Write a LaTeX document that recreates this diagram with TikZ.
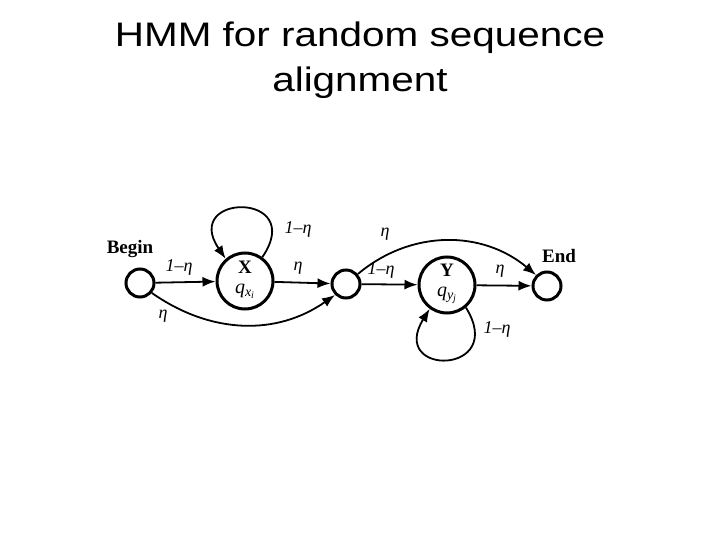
\documentclass[tikz,border=0pt]{standalone}
\usepackage{fontspec}
\setmainfont{Liberation Serif}
\newfontfamily\titlefont{Liberation Sans}
\usetikzlibrary{arrows.meta}
\tikzset{
  smallstate/.style={circle, draw, line width=3pt, inner sep=0pt, minimum size=28pt},
  bigstate/.style={circle, draw, line width=3pt, inner sep=0pt, minimum size=56pt},
  arr/.style={line width=1.8pt, -{Latex[length=13pt, width=10pt]}},
  lbl/.style={font=\itshape\fontsize{18}{20}\selectfont},
  statename/.style={font=\bfseries\fontsize{19}{21}\selectfont},
}
\newcommand{\omeps}{1–η}
\begin{document}
\begin{tikzpicture}[x=1pt, y=1pt]
  \useasboundingbox (0,0) rectangle (720,-540);
  \node[align=center, anchor=base, xscale=1.19, font=\titlefont\fontsize{34}{45}\selectfont] (title) at (360,-92) {HMM for random sequence\\alignment};
  % states
  \node[smallstate] (begin) at (140,-283) {};
  \node[bigstate] (x) at (245,-281) {};
  \node[smallstate] (mid) at (346,-284) {};
  \node[bigstate] (y) at (447,-285) {};
  \node[smallstate] (end) at (547,-286) {};
  \node[statename] (beginlbl) at (130,-249) {Begin};
  \node[statename] (endlbl) at (559,-256) {End};
  \node[statename, inner sep=0pt] (xname) at (245,-267) {X};
  \node[lbl, inner sep=0pt, font=\itshape\fontsize{20}{22}\selectfont] (xq) at (245,-291) {$\mathit{q}_{\mathit{x}_{\mathit{i}}}$};
  \node[statename, inner sep=0pt] (yname) at (447,-270) {Y};
  \node[lbl, inner sep=0pt, font=\itshape\fontsize{20}{22}\selectfont] (yq) at (447,-295) {$\mathit{q}_{\mathit{y}_{\mathit{j}}}$};
  % transitions
  \draw[arr] (begin) -- (x);
  \draw[arr] (x) -- (mid);
  \draw[arr] (mid) -- (y);
  \draw[arr] (y) -- (end);
  \draw[arr] (begin.-40) to[out=-35, in=-145] (mid.-135);
  \draw[arr] (mid.40) to[out=40, in=140] (end.135);
  \draw[arr] (x.54) .. controls +(45,66) and +(-45,66) .. (x.131);
  \draw[arr] (y.-50) .. controls +(42,-68) and +(-42,-68) .. (y.-126);
  % labels
  \node[lbl] (l1) at (179,-267) {\omeps};
  \node[lbl] (l2) at (163,-316) {η};
  \node[lbl] (l3) at (298,-229) {\omeps};
  \node[lbl] (l4) at (298,-268) {η};
  \node[lbl] (l5) at (385,-234) {η};
  \node[lbl] (l6) at (381,-270) {\omeps};
  \node[lbl] (l7) at (500,-271) {η};
  \node[lbl] (l8) at (497,-329) {\omeps};
\end{tikzpicture}
\end{document}
